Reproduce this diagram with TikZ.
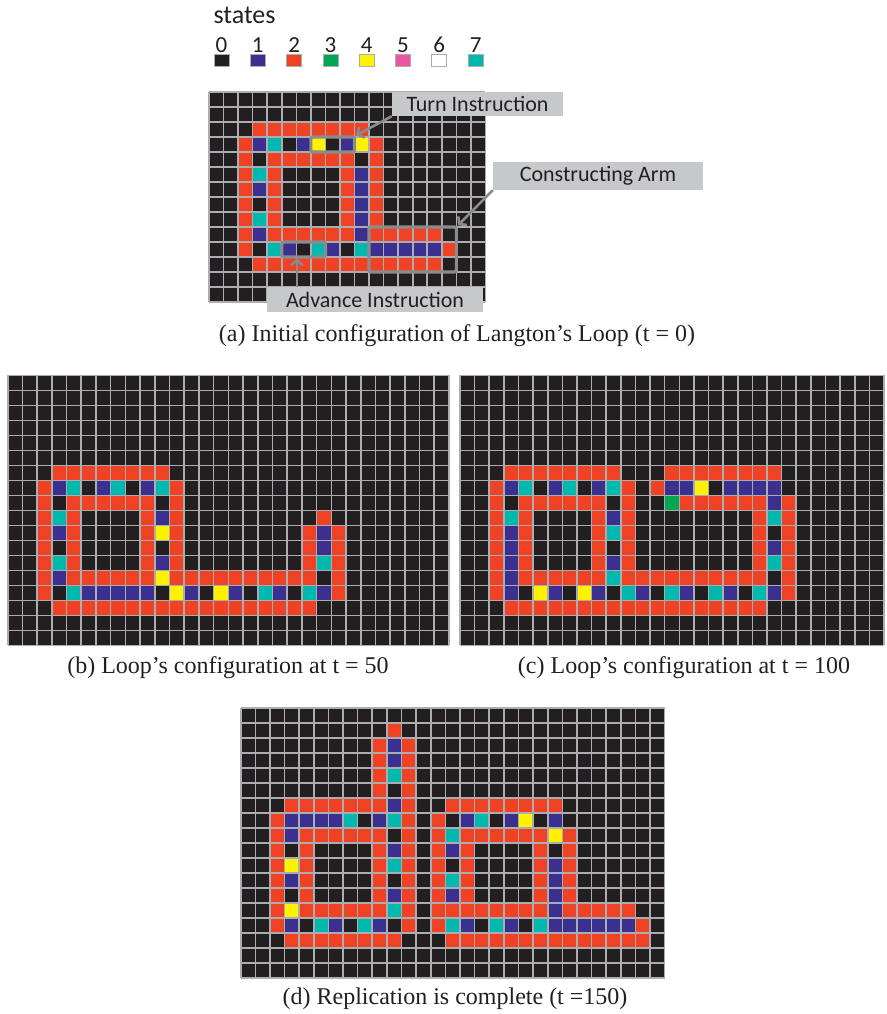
\documentclass[tikz,border=0pt]{standalone}
\usepackage{fontspec}
\setsansfont{Carlito}
\newfontfamily\capfont[Ligatures=TeX]{Liberation Serif}
\usetikzlibrary{arrows.meta, positioning, calc, fit}

\definecolor{ca0}{HTML}{231F20}
\definecolor{ca1}{HTML}{3B2F8F}
\definecolor{ca2}{HTML}{EF4123}
\definecolor{ca3}{HTML}{00A651}
\definecolor{ca4}{HTML}{FFF200}
\definecolor{ca5}{HTML}{E9559E}
\definecolor{ca6}{HTML}{FFFFFF}
\definecolor{ca7}{HTML}{00B8AE}
\definecolor{gridgray}{HTML}{ABADB0}
\definecolor{callgray}{HTML}{8A8B8D}
\definecolor{lblgray}{HTML}{C7C8CA}

\newcount\cacol
\def\cascan#1{\ifx#1\relax\else
  \ifnum#1>0 \fill[ca#1] (\the\cacol,\r) rectangle ++(1,1);\fi
  \advance\cacol by 1
  \expandafter\cascan\fi}
\newcommand\cagrid[3]{%
  \fill[ca0] (0,0) rectangle (#1,#2);
  \foreach \row [count=\r from 0] in {#3} {\cacol=0 \expandafter\cascan\row\relax}
  \foreach \i in {0,...,#1} \draw[gridline] (\i,0) -- (\i,#2);
  \foreach \j in {0,...,#2} \draw[gridline] (0,\j) -- (#1,\j);
}

\tikzset{
  gridline/.style={draw=gridgray, line width=1.6pt},
  swatch/.style={draw=gridgray, line width=0.8pt, minimum width=15pt, minimum height=12pt, inner sep=0pt},
  notebox/.style={draw=callgray, line width=3.2pt, rounded corners=2pt, inner sep=0pt},
  lbl/.style={fill=lblgray, text=ca0, font=\sffamily\fontsize{22}{24}\selectfont, inner sep=0pt},
  callout/.style={draw=callgray, line width=2.6pt, -{Straight Barb[length=5pt, width=12pt]}},
  caption/.style={font=\capfont\fontsize{24}{27}\selectfont, text=ca0}
}

\begin{document}
\begin{tikzpicture}[x=1pt, y=-1pt]
\useasboundingbox (0,0) rectangle (886,1014);

% legend
\node[anchor=base west, font=\sffamily\fontsize{26}{28}\selectfont, text=ca0] (states) at (210,24) {states};
\foreach \s in {0,...,7} {
  \node[swatch, fill=ca\s] (sw\s) at (221.5+36.3*\s,60) {};
  \node[anchor=base, font=\sffamily\fontsize{23}{24}\selectfont, text=ca0] (num\s) at (221.5+36.3*\s,53) {\s};
}

% (a) t = 0
\begin{scope}[shift={(209,92)}, x=14.55pt, y=-15pt]
  \cagrid{19}{14}{0,0,00022222222,002170140142,002022222202,002720000212,002120000212,002020000212,002720000212,0021222222122222,00207107107111112,0002222222222222,0,0}
  \node[notebox, fit={(7,3) (10,4)}] (turnbox) {};
  \node[notebox, fit={(5,10) (8,11)}] (advbox) {};
  \node[notebox, fit={(11,9) (17,12)}] (armbox) {};
\end{scope}
\node[lbl, minimum width=171pt, minimum height=24pt] (turnlbl) at (477.5,104) {Turn Instruction};
\node[lbl, minimum width=210pt, minimum height=28pt] (armlbl) at (598,176) {Constructing Arm};
\node[lbl, minimum width=216pt, minimum height=25pt] (advlbl) at (375,299.5) {Advance Instruction};
\draw[callout] (turnlbl.south west) -- (turnbox.north east);
\draw[callout] (armlbl.south west) -- (armbox.north east);
\draw[callout] ([xshift=30pt]advlbl.north west) -- ([xshift=30pt]advlbl.north west |- advbox.south);
\node[caption] (capa) at (457,336) {(a) Initial configuration of Langton’s Loop (t = 0)};

% (b) t = 50
\begin{scope}[shift={(7.7,375.3)}, x=14.71pt, y=-15pt]
  \cagrid{30}{18}{0,0,0,0,0,0,00022222222,002170170172,002022222202,0027200002120000000002,00212000024200000000212,00202000020200000000212,00272000021200000000272,00212222224222222222202,00207111110410410710712,000222222222222222222,0,0}
\end{scope}
\node[caption] (capb) at (228,668) {(b) Loop’s configuration at t = 50};

% (c) t = 100
\begin{scope}[shift={(460,375.3)}, x=14.62pt, y=-15pt]
  \cagrid{29}{18}{0,0,0,0,0,0,0002222222200022222222,0021701701720211401111,00202222220200322222212,00272000021200000000272,00212000027200000000202,00212000020200000000212,00212000021200000000272,00212222227222222222202,00210410410710710710712,000222222222222222222,0,0}
\end{scope}
\node[caption] (capc) at (684,668) {(c) Loop’s configuration at t = 100};

% (d) t = 150
\begin{scope}[shift={(240.7,708)}, x=14.62pt, y=-15pt]
  \cagrid{29}{18}{0,00000000002,000000000212,000000000212,000000000272,000000000202,0002222222120022222222,0021111701720201701401,00212222220202722222242,00202000021202120000202,00242000027202020000212,00212000020202720000212,00202000021202120000212,002422222272022222222122222,0021071071020271071071111112,0002222222200022222222222222,0,0}
\end{scope}
\node[caption] (capd) at (455,999) {(d) Replication is complete (t =150)};
\end{tikzpicture}
\end{document}
